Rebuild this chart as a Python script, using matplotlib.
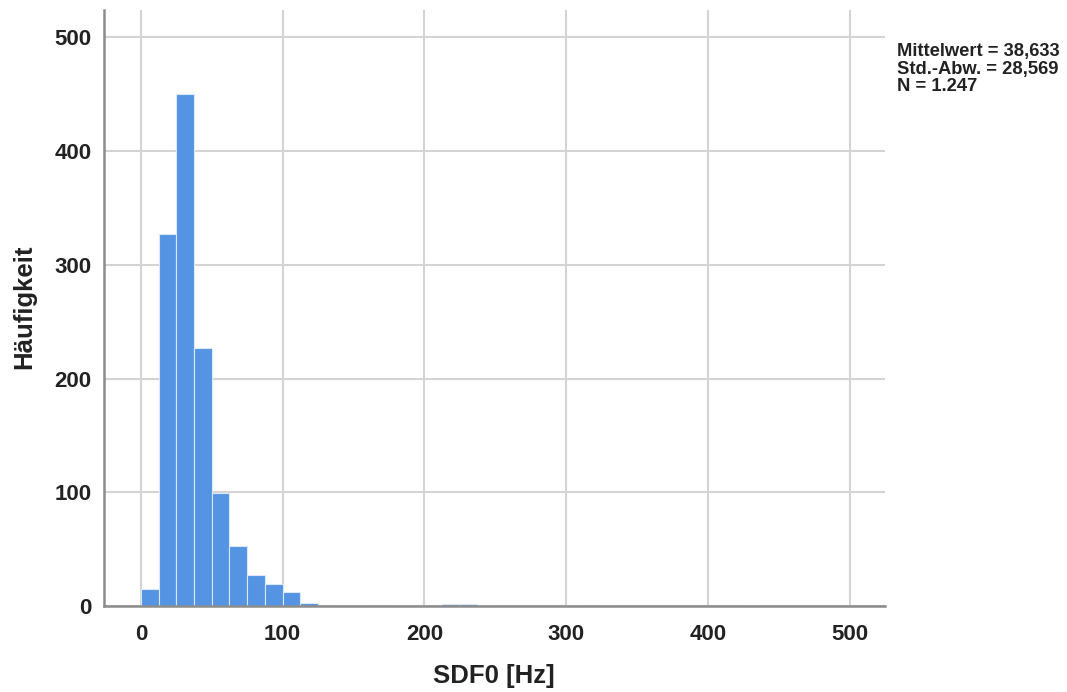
import matplotlib
matplotlib.use("Agg")
import matplotlib.pyplot as plt

# histogram of SDF0, bins of 12.5 Hz starting at 0
bin_width = 12.5
counts = [15, 327, 450, 227, 99, 53, 27, 19, 12, 3,
          0, 1, 1, 0, 1, 1, 0, 2, 2, 1,
          0, 0, 0, 0, 1, 0, 1, 0, 0, 0,
          0, 0, 0, 0, 1, 0, 0, 0, 0, 0]
x_ticks = [0, 100, 200, 300, 400, 500]
y_ticks = [0, 100, 200, 300, 400, 500]
stats_text = "Mittelwert = 38,633\nStd.-Abw. = 28,569\nN = 1.247"
x_label = "SDF0 [Hz]"
y_label = "Häufigkeit"

plt.rcParams['font.family'] = ['Liberation Sans', 'DejaVu Sans']

fig = plt.figure(figsize=(10.67, 6.92), dpi=100)
ax = fig.add_axes([104/1067, 86/692, 781/1067, 596/692])

lefts = [i*bin_width for i in range(len(counts))]
ax.bar(lefts, counts, width=bin_width, align='edge', color='#5494E2',
       edgecolor='#dbe8f8', linewidth=0.8, zorder=2)

ax.set_xlim(-26, 525)
ax.set_ylim(0, 524)
ax.set_xticks(x_ticks)
ax.set_yticks(y_ticks)
ax.set_axisbelow(True)
ax.grid(True, color='#d4d4d4', linewidth=1.5)

for s in ['top', 'right']:
    ax.spines[s].set_visible(False)
for s in ['left', 'bottom']:
    ax.spines[s].set_color('#8c8c8c')
    ax.spines[s].set_linewidth(1.8)
    ax.spines[s].set_zorder(3)

ax.tick_params(axis='both', length=0, labelsize=16, colors='#222222')
ax.tick_params(axis='y', pad=9)
ax.tick_params(axis='x', pad=13)
for lab in ax.get_xticklabels() + ax.get_yticklabels():
    lab.set_fontweight('bold')

fig.text(494/1067, 1 - 676/692, x_label, ha='center', va='center',
         fontsize=18.5, fontweight='bold', color='#222222')
fig.text(24/1067, 1 - 307/692, y_label, ha='center', va='center',
         rotation=90, fontsize=18.5, fontweight='bold', color='#222222')

fig.text(897/1067, 1 - 43/692, stats_text, ha='left', va='top',
         fontsize=13.2, fontweight='bold', linespacing=1.05, color='#222222')

fig.savefig("out.png", dpi=100)
